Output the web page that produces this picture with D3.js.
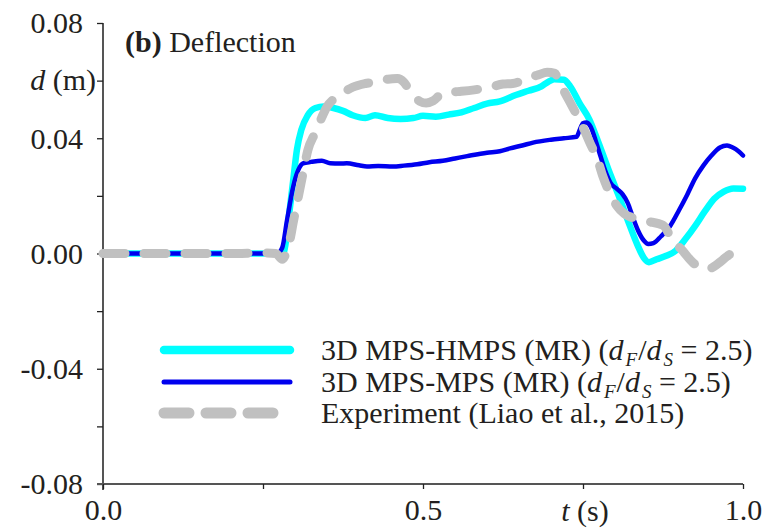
<!DOCTYPE html>
<html>
<head>
<meta charset="utf-8">
<script src="https://cdn.jsdelivr.net/npm/d3@7"></script>
<style>
  html, body { margin: 0; padding: 0; background: #fff; }
  svg { display: block; }
  svg text { font-family: "Liberation Serif", "Times New Roman", serif !important; fill: #231f20; }
</style>
</head>
<body>
<svg id="chart" width="769" height="528"></svg>
<script>
// Deflection d (m) against time t (s)
const hmps = [
  [0,0],[0.1,0],[0.2,0],[0.27,0],[0.28,-0.0008],[0.285,0.003],[0.29,0.012],[0.297,0.025],
  [0.303,0.036],[0.31,0.043],[0.32,0.048],[0.332,0.0505],[0.345,0.051],[0.36,0.0505],
  [0.375,0.0495],[0.39,0.048],[0.41,0.047],[0.425,0.048],[0.445,0.047],[0.465,0.0467],
  [0.485,0.047],[0.5,0.0478],[0.52,0.0475],[0.54,0.0482],[0.56,0.049],[0.58,0.0505],
  [0.6,0.052],[0.62,0.0528],[0.645,0.055],[0.665,0.0565],[0.685,0.058],[0.695,0.0595],
  [0.705,0.0605],[0.72,0.0603],[0.73,0.058],[0.745,0.052],[0.76,0.0465],[0.775,0.038],
  [0.79,0.029],[0.805,0.0205],[0.82,0.0115],[0.835,0.003],[0.845,-0.0015],[0.853,-0.003],
  [0.865,-0.002],[0.88,-0.0008],[0.895,0.001],[0.91,0.005],[0.925,0.0095],[0.94,0.0145],
  [0.955,0.019],[0.97,0.0215],[0.985,0.0226],[1.0,0.0225]
];
const mps = [
  [0,0],[0.1,0],[0.2,0],[0.272,0],[0.28,0.002],[0.2875,0.0115],[0.297,0.023],[0.305,0.0289],
  [0.3125,0.0313],[0.325,0.0318],[0.342,0.0322],[0.355,0.0313],[0.37,0.0312],[0.381,0.0313],
  [0.4,0.0306],[0.4125,0.0302],[0.43,0.0304],[0.453,0.0302],[0.47,0.0305],[0.491,0.031],
  [0.51,0.0317],[0.531,0.0322],[0.55,0.033],[0.569,0.0338],[0.6,0.035],[0.62,0.0355],
  [0.636,0.0365],[0.655,0.0375],[0.672,0.0385],[0.7,0.0395],[0.72,0.04],[0.74,0.0405],
  [0.745,0.043],[0.75,0.0452],[0.755,0.0455],[0.762,0.044],[0.77,0.039],[0.777,0.034],
  [0.785,0.0285],[0.793,0.0245],[0.803,0.0224],[0.812,0.0205],[0.82,0.0175],[0.828,0.0125],
  [0.836,0.008],[0.845,0.0045],[0.852,0.0033],[0.86,0.0036],[0.872,0.006],[0.886,0.0095],
  [0.9,0.015],[0.913,0.0205],[0.925,0.026],[0.938,0.0305],[0.95,0.0338],[0.964,0.0368],
  [0.975,0.0375],[0.984,0.0368],[0.993,0.0355],[1.0,0.034]
];
const experiment = [
  [0,0],[0.1,0],[0.2,0],[0.25,0.0002],[0.27,0],[0.28,-0.002],[0.285,-0.0005],[0.292,0.0046],
  [0.297,0.0105],[0.305,0.0195],[0.3125,0.0278],[0.32,0.0358],[0.331,0.0417],[0.342,0.0473],
  [0.35,0.051],[0.36,0.0535],[0.375,0.0558],[0.39,0.0577],[0.41,0.059],[0.428,0.0596],
  [0.445,0.0605],[0.46,0.0607],[0.47,0.0595],[0.478,0.057],[0.486,0.0548],[0.495,0.0528],
  [0.505,0.0522],[0.516,0.053],[0.53,0.0555],[0.545,0.056],[0.56,0.0563],[0.58,0.0568],
  [0.605,0.0577],[0.625,0.0588],[0.64,0.059],[0.655,0.06],[0.667,0.0611],[0.68,0.062],
  [0.694,0.0629],[0.706,0.0625],[0.712,0.06],[0.72,0.0565],[0.734,0.0507],[0.75,0.0438],
  [0.761,0.0383],[0.773,0.0324],[0.781,0.0268],[0.792,0.0209],[0.803,0.0165],[0.815,0.0137],
  [0.828,0.0124],[0.85,0.0112],[0.875,0.0098],[0.89,0.0046],[0.905,0.0011],[0.922,-0.0032],
  [0.935,-0.005],[0.944,-0.0055],[0.955,-0.0045],[0.964,-0.003],[0.975,-0.001],[0.984,0.0001],
  [0.998,0.0001]
];

const xTicks = [0, 0.25, 0.5, 0.75, 1.0];
const xTickLabels = ["0.0", "", "0.5", "", "1.0"];
const yTicks = [-0.08, -0.06, -0.04, -0.02, 0, 0.02, 0.04, 0.06, 0.08];
const yTickLabels = ["-0.08", "", "-0.04", "", "0.00", "", "0.04", "", "0.08"];

const seriesNames = [
  "3D MPS-HMPS (MR)",
  "3D MPS-MPS (MR)",
  "Experiment (Liao et al., 2015)"
];

const svg = d3.select("#chart");
const x = d3.scaleLinear().domain([0, 1]).range([103, 743]);
const y = d3.scaleLinear().domain([-0.08, 0.08]).range([484, 23]);

const axisColor = "#555";
const fontSize = 30;
const serif = "Liberation Serif";

// y axis
const yAxis = svg.append("g").attr("transform", `translate(${x(0)},0)`)
  .call(d3.axisLeft(y).tickValues(yTicks).tickSize(6).tickPadding(14)
    .tickFormat((d, i) => yTickLabels[i]));
yAxis.attr("font-family", serif).attr("font-size", fontSize);
yAxis.select(".domain").attr("stroke", axisColor).attr("stroke-width", 2)
  .attr("d", `M0,${y(0.08)}V${y(-0.08) + 6}`);
yAxis.selectAll(".tick line").attr("stroke", "#222").attr("stroke-width", 1.3);
yAxis.selectAll(".tick text").attr("dy", "0.33em");

// x axis
const xAxis = svg.append("g").attr("transform", `translate(0,${y(-0.08)})`)
  .call(d3.axisBottom(x).tickValues(xTicks).tickSize(5).tickPadding(10)
    .tickFormat((d, i) => xTickLabels[i]));
xAxis.attr("font-family", serif).attr("font-size", fontSize);
xAxis.select(".domain").attr("stroke", axisColor).attr("stroke-width", 2)
  .attr("d", `M${x(0) - 6},0H${x(1)}`);
xAxis.selectAll(".tick line").attr("stroke", "#222").attr("stroke-width", 1.3);

// axis titles
const yTitle = svg.append("text").attr("x", 96).attr("y", y(0.06) + 9)
  .attr("text-anchor", "end").attr("font-size", fontSize);
yTitle.append("tspan").attr("font-style", "italic").text("d");
yTitle.append("tspan").text(" (m)");

const xTitle = svg.append("text").attr("x", x(0.75) + 2).attr("y", 521)
  .attr("text-anchor", "middle").attr("font-size", fontSize);
xTitle.append("tspan").attr("font-style", "italic").text("t");
xTitle.append("tspan").text(" (s)");

// panel title
const title = svg.append("text").attr("x", 125).attr("y", 52).attr("font-size", 30);
title.append("tspan").attr("font-weight", "bold").text("(b)");
title.append("tspan").text(" Deflection");

// curves
const line = d3.line().x(d => x(d[0])).y(d => y(d[1])).curve(d3.curveMonotoneX);
const styles = [
  { data: hmps, color: "#00ffff", width: 6.5, dash: null },
  { data: mps, color: "#0000ee", width: 4.5, dash: null },
  { data: experiment, color: "#c0c0c0", width: 9, dash: "22,19" }
];
styles.forEach(s => {
  svg.append("path").datum(s.data).attr("d", line)
    .attr("fill", "none").attr("stroke", s.color).attr("stroke-width", s.width)
    .attr("stroke-linecap", "round").attr("stroke-linejoin", "round")
    .attr("stroke-dasharray", s.dash);
});

// legend
const legendRows = [350, 382, 413];
const legendWidths = [8.5, 5, 11];
const legendEnds = [290, 290, 278];
styles.forEach((s, i) => {
  const ly = legendRows[i];
  svg.append("line").attr("x1", 164).attr("x2", legendEnds[i]).attr("y1", ly).attr("y2", ly)
    .attr("stroke", s.color).attr("stroke-width", legendWidths[i])
    .attr("stroke-linecap", "round")
    .attr("stroke-dasharray", s.dash ? "25,17" : null);
  const t = svg.append("text").attr("x", 321).attr("y", ly + 10).attr("font-size", 30);
  t.append("tspan").text(seriesNames[i]);
  if (i < 2) {
    // ratio d_F/d_S with lowered subscripts
    t.append("tspan").text(" (");
    t.append("tspan").attr("font-style", "italic").text("d");
    t.append("tspan").attr("font-style", "italic").attr("font-size", 19).attr("dx", 2)
      .attr("baseline-shift", "-6").text("F");
    t.append("tspan").attr("dx", 1).text("/");
    t.append("tspan").attr("font-style", "italic").text("d");
    t.append("tspan").attr("font-style", "italic").attr("font-size", 19).attr("dx", 2)
      .attr("baseline-shift", "-6").text("S");
    t.append("tspan").text(" = 2.5)");
  }
});
</script>
</body>
</html>
